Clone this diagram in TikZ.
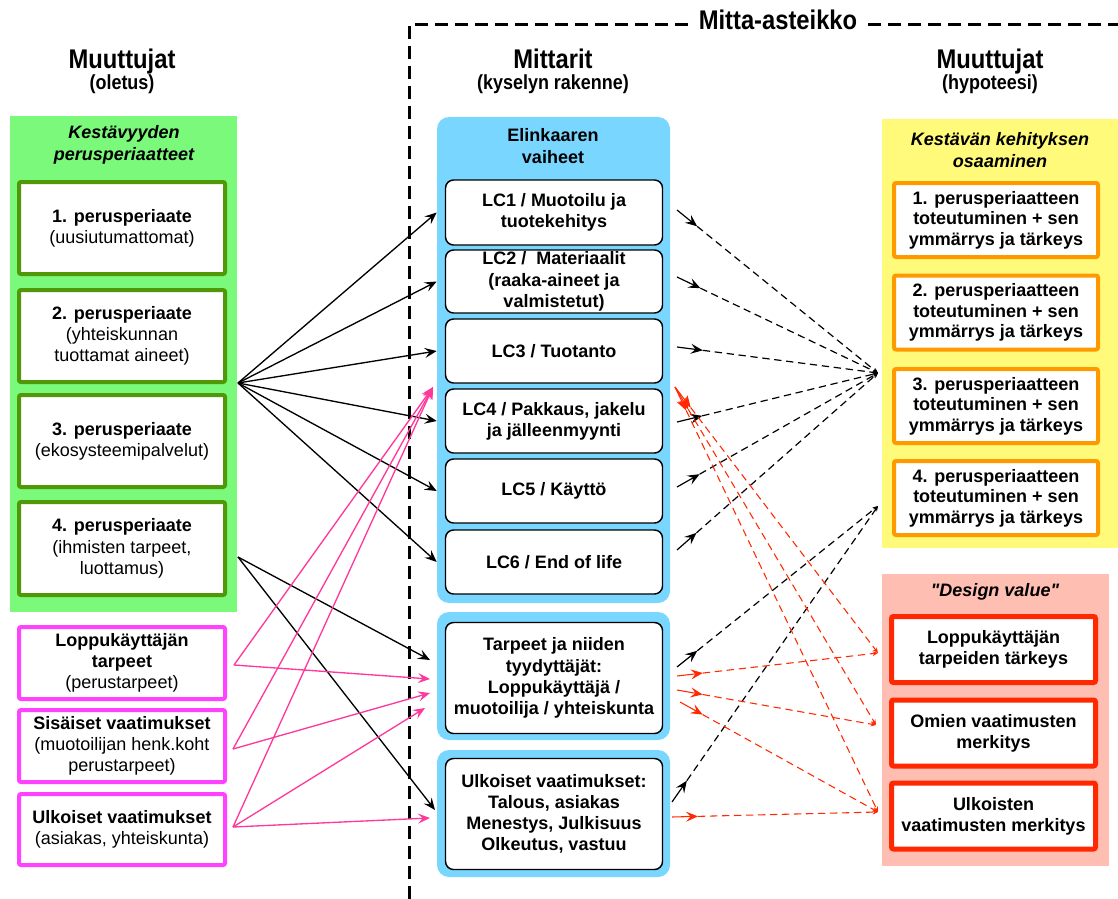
\documentclass[tikz,border=0pt]{standalone}
\usepackage{fontspec}
\setmainfont{Liberation Sans}
\newfontfamily\headfont[FakeStretch=0.88]{Liberation Sans}
% same family without the TeX input mapping, so " stays a straight quote
\newfontfamily\straightsans{Liberation Sans}
\usetikzlibrary{arrows.meta,calc}

\definecolor{gfill}{RGB}{122,249,122}
\definecolor{gline}{RGB}{80,152,8}
\definecolor{kline}{RGB}{255,66,255}
\definecolor{bfill}{RGB}{120,214,255}
\definecolor{yfill}{RGB}{255,250,122}
\definecolor{oline}{RGB}{255,153,0}
\definecolor{sfill}{RGB}{255,190,178}
\definecolor{rline}{RGB}{255,40,0}
\definecolor{parrow}{RGB}{255,56,156}

% short solid lead-in with a head, then a dashed run to the target
\newcommand{\leadarrow}[3]{%
  \draw[#1,-{Stealth[length=9pt,width=7.5pt,inset=3.5pt]}] (#2) -- ($(#2)!19.5pt!(#3)$);
  \draw[#1,dashrun,-{Stealth[length=4pt,width=3.5pt]}] ($(#2)!19.5pt!(#3)$) -- (#3);
}

\begin{document}
\begin{tikzpicture}[x=0.75pt,y=-0.75pt,
  txt/.style={font=\fontsize{13.5pt}{15.9pt}\selectfont, align=center, inner sep=0pt},
  head/.style={font=\headfont\bfseries\fontsize{20.25pt}{24pt}\selectfont, inner sep=0pt, anchor=base},
  subhead/.style={font=\headfont\bfseries\fontsize{15.3pt}{18pt}\selectfont, inner sep=0pt, anchor=base},
  ptitle/.style={txt, font=\fontsize{13.5pt}{16.5pt}\selectfont\bfseries\itshape},
  panel/.style={draw=none, inner sep=0pt},
  gbox/.style={txt, draw=gline, line width=3pt, fill=white, rounded corners=1.5pt, minimum width=154.5pt, minimum height=69pt},
  kbox/.style={txt, draw=kline, line width=3pt, fill=white, rounded corners=1.5pt, minimum width=154.5pt, minimum height=54pt},
  lcbox/.style={txt, font=\fontsize{13.5pt}{15.9pt}\selectfont\bfseries, draw=black, line width=1.1pt, fill=white, rounded corners=6pt, minimum width=162.75pt, minimum height=48pt},
  obox/.style={txt, font=\fontsize{13.5pt}{15.4pt}\selectfont\bfseries, draw=oline, line width=3pt, fill=white, rounded corners=1.5pt, minimum width=153pt, minimum height=55.5pt},
  rbox/.style={txt, font=\fontsize{13.5pt}{15.9pt}\selectfont\bfseries, draw=rline, line width=3.75pt, fill=white, rounded corners=1.5pt, minimum width=153pt, minimum height=49.5pt},
  frame/.style={line width=2.25pt, dash pattern=on 9.75pt off 5.25pt},
  link/.style={line width=1pt, -{Stealth[length=9pt,width=7.5pt,inset=3.5pt]}},
  plink/.style={link, draw=parrow},
  dashrun/.style={dash pattern=on 5.5pt off 3.5pt},
  bk/.style={black, line width=0.9pt},
  rd/.style={rline, line width=0.8pt}
]
\useasboundingbox (0,0) rectangle (1118,899);

% headings and the measurement frame
\node[head] (scale) at (778,30) {Mitta-asteikko};
\draw[frame] (409,899) -- (409,25) -- (688,25);
\draw[frame] (868,25) -- (1118,25);

\node[head] (hvar1) at (122,69) {Muuttujat};
\node[subhead] (svar1) at (122,90) {(oletus)};
\node[head] (hmeas) at (553,69) {Mittarit};
\node[subhead] (smeas) at (553,90) {(kyselyn rakenne)};
\node[head] (hvar2) at (990,69) {Muuttujat};
\node[subhead] (svar2) at (990,90) {(hypoteesi)};

% left column: sustainability principles
\node[panel, fill=gfill, minimum width=170.25pt, minimum height=372pt] (gp) at (123.5,364) {};
\node[ptitle] (gt) at (124,145) {Kestävyyden\\perusperiaatteet};
\node[gbox] (g1) at (122,228) {\textbf{1. perusperiaate}\\(uusiutumattomat)};
\node[gbox] (g2) at (122,336) {\textbf{2. perusperiaate}\\(yhteiskunnan\\tuottamat aineet)};
\node[gbox] (g3) at (122,441) {\textbf{3. perusperiaate}\\(ekosysteemipalvelut)};
\node[gbox, minimum height=69.75pt] (g4) at (122,548.5) {\textbf{4. perusperiaate}\\(ihmisten tarpeet,\\luottamus)};

\node[kbox] (k1) at (122,663) {\textbf{Loppukäyttäjän}\\\textbf{tarpeet}\\(perustarpeet)};
\node[kbox] (k2) at (122,746) {\textbf{Sisäiset vaatimukset}\\(muotoilijan henk.koht\\perustarpeet)};
\node[kbox, minimum height=53.25pt] (k3) at (122,829.5) {\textbf{Ulkoiset vaatimukset}\\(asiakas, yhteiskunta)};

% middle column: life-cycle phases
\node[panel, fill=bfill, rounded corners=9pt, minimum width=174.75pt, minimum height=364.5pt] (b1) at (553.5,360) {};
\node[panel, fill=bfill, rounded corners=9pt, minimum width=174.75pt, minimum height=96pt] (b2) at (553.5,676) {};
\node[panel, fill=bfill, rounded corners=9pt, minimum width=174.75pt, minimum height=95.25pt] (b3) at (553.5,813.5) {};
\node[txt, font=\fontsize{13.5pt}{16.5pt}\selectfont\bfseries] (bt) at (553,146) {Elinkaaren\\vaiheet};
\node[lcbox, minimum height=48.75pt] (lc1) at (554,212.5) {LC1 / Muotoilu ja\\tuotekehitys};
\node[lcbox, minimum height=47.25pt] (lc2) at (554,281.5) {LC2 /~ Materiaalit\\(raaka-aineet ja\\valmistetut)};
\node[lcbox] (lc3) at (554,351) {LC3 / Tuotanto};
\node[lcbox] (lc4) at (554,421) {LC4 / Pakkaus, jakelu\\ja jälleenmyynti};
\node[lcbox] (lc5) at (554,491) {LC5 / Käyttö};
\node[lcbox] (lc6) at (554,562) {LC6 / End of life};
\node[lcbox, minimum height=83.25pt] (tb) at (554,678) {Tarpeet ja niiden\\tyydyttäjät:\\Loppukäyttäjä /\\muotoilija / yhteiskunta};
\node[lcbox, minimum height=83.25pt] (ub) at (554,814) {Ulkoiset vaatimukset:\\Talous, asiakas\\Menestys, Julkisuus\\Olkeutus, vastuu};

% right column: competence and design value
\node[panel, fill=yfill, minimum width=177pt, minimum height=321.75pt] (yp) at (1000,333.5) {};
\node[ptitle] (yt) at (1000,150) {Kestävän kehityksen\\osaaminen};
\node[obox] (o1) at (996,220) {1. perusperiaatteen\\toteutuminen + sen\\ymmärrys ja tärkeys};
\node[obox] (o2) at (996,312.5) {2. perusperiaatteen\\toteutuminen + sen\\ymmärrys ja tärkeys};
\node[obox] (o3) at (996,406) {3. perusperiaatteen\\toteutuminen + sen\\ymmärrys ja tärkeys};
\node[obox] (o4) at (996,498) {4. perusperiaatteen\\toteutuminen + sen\\ymmärrys ja tärkeys};

\node[panel, fill=sfill, minimum width=170.25pt, minimum height=219pt] (sp) at (995.5,720) {};
\node[ptitle, font=\straightsans\fontsize{13.5pt}{16.5pt}\selectfont\bfseries\itshape] (st) at (995,592) {"Design value"};
\node[rbox] (r1) at (993.5,649.5) {Loppukäyttäjän\\tarpeiden tärkeys};
\node[rbox] (r2) at (993.5,733) {Omien vaatimusten\\merkitys};
\node[rbox] (r3) at (993.5,816) {Ulkoisten\\vaatimusten merkitys};

% connector end points
\coordinate (gA) at (238,383);
\coordinate (gB) at (238,557);
\coordinate (kA) at (234,665);
\coordinate (kB) at (233,749);
\coordinate (kC) at (233,827);
\coordinate (pT) at (433,387);
\coordinate (tA) at (430,660);
\coordinate (tB) at (430,679);
\coordinate (tC) at (430,693);
\coordinate (tD) at (425,708);
\coordinate (uA) at (435,810);
\coordinate (uB) at (430,818);

\coordinate (s1) at (677,210);
\coordinate (s2) at (677,277);
\coordinate (s3) at (677,347);
\coordinate (s4) at (677,422);
\coordinate (s5) at (677,487);
\coordinate (s6) at (677,550);
\coordinate (s7) at (677,667);
\coordinate (s8) at (672,802);
\coordinate (q0) at (675,387);
\coordinate (q1) at (677,676);
\coordinate (q2) at (677,690);
\coordinate (q3) at (680,702);
\coordinate (q4) at (672,817);
\coordinate (e1) at (878,373);
\coordinate (e2) at (878,506);
\coordinate (e3) at (878,653);
\coordinate (e4) at (876,725);
\coordinate (e5) at (878,812);

% principles to life-cycle phases
\foreach \t in {lc1,lc2,lc3,lc4,lc5,lc6}
  \draw[link] (gA) -- (b1.west |- \t);
\draw[link] (gB) -- (tA);
\draw[link] (gB) -- (uA);

% needs and requirements to the measures
\foreach \s in {kA,kB,kC}
  \draw[plink] (\s) -- (pT);
\draw[plink] (kA) -- (tB);
\draw[plink] (kB) -- (tC);
\draw[plink] (kC) -- (tD);
\draw[plink] (kC) -- (uB);

% measures to hypothesised variables
\leadarrow{bk}{s1}{e1}
\leadarrow{bk}{s2}{e1}
\leadarrow{bk}{s3}{e1}
\leadarrow{bk}{s4}{e1}
\leadarrow{bk}{s5}{e1}
\leadarrow{bk}{s6}{e1}
\leadarrow{bk}{s7}{e2}
\leadarrow{bk}{s8}{e2}
\leadarrow{rd}{q0}{e3}
\leadarrow{rd}{q0}{e4}
\leadarrow{rd}{q0}{e5}
\leadarrow{rd}{q1}{e3}
\leadarrow{rd}{q2}{e4}
\leadarrow{rd}{q3}{e5}
\leadarrow{rd}{q4}{e5}

\end{tikzpicture}
\end{document}
